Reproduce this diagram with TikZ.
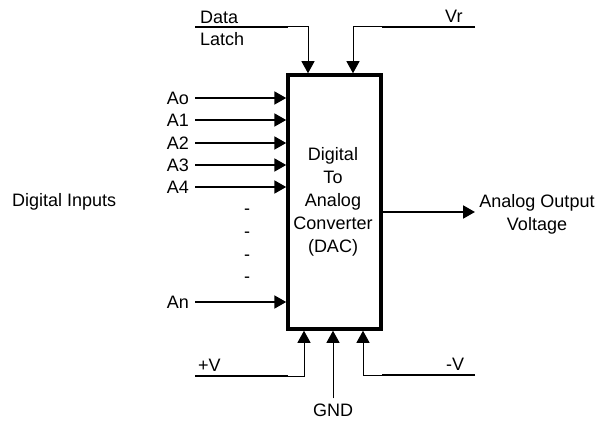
\documentclass[tikz,border=0pt]{standalone}
\usepackage{fontspec}
\setmainfont{Liberation Sans}
\usetikzlibrary{arrows.meta}
\tikzset{
  lbl/.style={inner sep=0pt},
  thickln/.style={line width=2pt},
  thinln/.style={line width=1pt},
  arr/.style={-{Triangle[length=12pt,width=13pt]}},
  boxst/.style={draw, line width=3.5pt, minimum width=93pt, minimum height=254pt, inner sep=0pt},
}
\begin{document}
\begin{tikzpicture}[x=1pt,y=-1pt,font=\fontsize{18}{23}\selectfont]
\useasboundingbox (0,0) rectangle (599,422);
% main box
\node[boxst] (box) at (334.5,202) {};
\node[lbl, align=center] (txt) at (333,202) {Digital\\To\\Analog\\Converter\\(DAC)};

% inputs
\foreach \n/\t/\y in {a0/Ao/98, a1/A1/120, a2/A2/143, a3/A3/165, a4/A4/187, an/An/302}{
  \node[lbl, anchor=east] (\n) at (189,\y) {\t};
  \coordinate (\n s) at (195,\y);
  \draw[thickln, arr] (\n s) -- (\n s -| box.west);
}
\foreach \i/\y in {1/212, 2/235, 3/258, 4/280}{
  \node[lbl] (dash\i) at (247,\y) {-};
}
\node[lbl, anchor=west] (din) at (12,202) {Digital Inputs};

% output
\coordinate (outend) at (475,212);
\draw[thickln, arr] (box.east |- outend) -- (outend);
\node[lbl, align=center] (aout) at (537,214) {Analog Output\\Voltage};

% Data Latch
\node[lbl, anchor=west] (data) at (200,17) {Data};
\node[lbl, anchor=west] (latch) at (200,39) {Latch};
\coordinate (dl0) at (195,27);
\coordinate (dl1) at (288,27);
\coordinate (dl2) at (308,27);
\draw[thickln] (dl0) -- (dl1);
\draw[thinln, arr] (dl1) -- (dl2) -- (dl2 |- box.north);

% Vr
\node[lbl, anchor=west] (vr) at (445,16) {Vr};
\coordinate (vr0) at (475,27);
\coordinate (vr1) at (382,27);
\coordinate (vr2) at (353,27);
\draw[thickln] (vr0) -- (vr1);
\draw[thinln, arr] (vr1) -- (vr2) -- (vr2 |- box.north);

% +V
\node[lbl, anchor=west] (pv) at (198,365) {+V};
\coordinate (pv0) at (195,376);
\coordinate (pv1) at (288,376);
\coordinate (pv2) at (304,376);
\draw[thickln] (pv0) -- (pv1);
\draw[thinln, arr] (pv1) -- (pv2) -- (pv2 |- box.south);

% GND
\node[lbl] (gnd) at (333,410) {GND};
\draw[thinln, arr] ([yshift=5pt]gnd.north) -- (gnd.north |- box.south);

% -V
\node[lbl, anchor=west] (mv) at (446,364) {-V};
\coordinate (mv0) at (475,375);
\coordinate (mv1) at (382,375);
\coordinate (mv2) at (363,375);
\draw[thickln] (mv0) -- (mv1);
\draw[thinln, arr] (mv1) -- (mv2) -- (mv2 |- box.south);
\end{tikzpicture}
\end{document}
